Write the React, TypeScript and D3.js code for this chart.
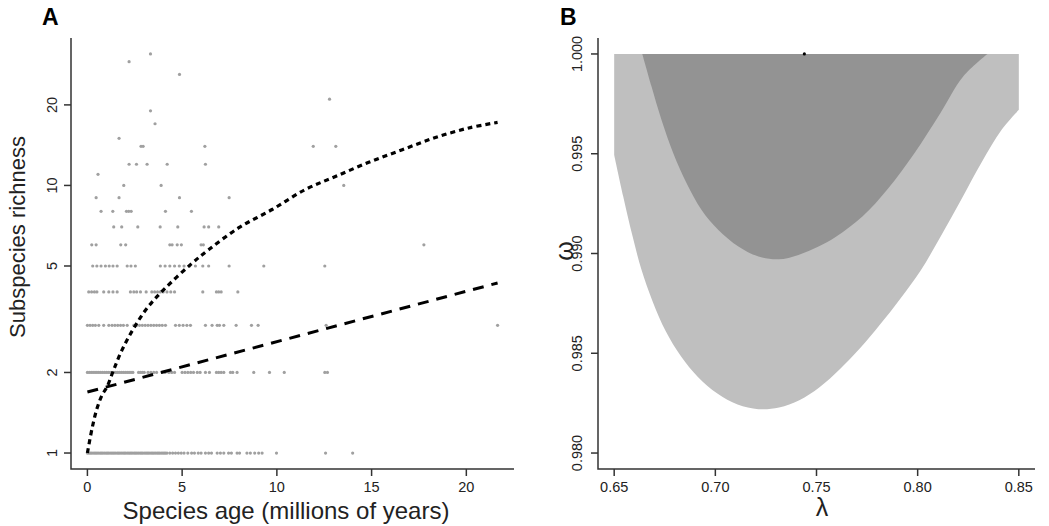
import React from "react";
import * as d3 from "d3";

// ---- panel A data (ages in Myr, grouped by subspecies richness) ----
const ages1 = [0.0, 0.08, 0.15, 0.22, 0.3, 0.38, 0.45, 0.52, 0.6, 0.68, 0.75, 0.82, 0.9, 0.98, 1.05, 1.12, 1.2, 1.28, 1.35, 1.42, 1.5, 1.58, 1.65, 1.72, 1.8, 1.88, 1.95, 2.02, 2.1, 2.18, 2.25, 2.32, 2.4, 2.48, 2.55, 2.62, 2.7, 2.78, 2.85, 2.92, 3.0, 3.08, 3.15, 3.22, 3.3, 3.38, 3.45, 3.52, 3.6, 3.68, 3.75, 3.82, 3.9, 3.98, 4.05, 4.12, 4.2, 4.35, 4.5, 4.65, 4.8, 4.95, 5.1, 5.3, 5.5, 5.65, 5.85, 6.0, 6.23, 6.4, 6.55, 6.85, 7.02, 7.2, 7.45, 7.6, 7.9, 8.03, 8.42, 8.6, 8.83, 9.04, 9.22, 9.98, 12.57, 14.0];
const ages2 = [0.0, 0.1, 0.2, 0.3, 0.4, 0.5, 0.6, 0.7, 0.8, 0.9, 1.0, 1.1, 1.2, 1.3, 1.4, 1.5, 1.6, 1.7, 1.8, 1.9, 2.0, 2.1, 2.2, 2.3, 2.4, 2.7, 2.8, 2.9, 3.0, 3.2, 3.35, 3.5, 3.65, 3.95, 4.1, 4.3, 4.45, 4.6, 5.0, 5.15, 5.3, 5.45, 5.6, 5.8, 5.95, 6.23, 6.44, 6.81, 6.93, 7.06, 7.2, 7.55, 7.67, 7.9, 8.78, 9.61, 10.39, 12.53, 12.67];
const ages3 = [0.0, 0.14, 0.28, 0.42, 0.6, 0.86, 1.13, 1.3, 1.45, 1.6, 1.75, 1.9, 2.1, 2.45, 2.6, 2.75, 2.9, 3.05, 3.2, 3.35, 3.5, 3.65, 3.8, 3.95, 4.12, 4.65, 4.85, 5.05, 5.25, 5.44, 6.23, 6.58, 6.85, 6.97, 7.2, 7.85, 8.66, 9.01, 12.6, 21.65];
const ages4 = [0.07, 0.22, 0.37, 0.5, 0.86, 1.13, 1.35, 1.57, 2.27, 2.45, 2.6, 2.8, 3.1, 3.4, 3.55, 3.7, 3.85, 4.0, 4.2, 4.4, 4.6, 6.09, 6.81, 6.93, 7.06, 7.94];
const ages5 = [0.28, 0.5, 0.72, 0.95, 1.15, 1.35, 1.57, 2.1, 2.3, 2.53, 3.85, 4.1, 4.35, 4.6, 4.85, 5.1, 5.4, 5.7, 6.09, 6.4, 7.48, 9.31, 12.53];
const ages6 = [0.23, 0.46, 1.76, 2.02, 4.35, 4.47, 4.74, 4.96, 6.0, 6.12, 17.76];
const ages7 = [1.39, 1.81, 2.66, 3.84, 4.77, 6.16, 6.4, 6.93];
const ages8 = [0.72, 1.34, 2.06, 2.18, 2.31, 4.12, 5.49];
const ages9 = [0.46, 1.67, 4.86, 7.48];
const ages10 = [1.92, 3.89, 13.53];
const ages11 = [0.56];
const ages12 = [2.2, 2.59, 3.15, 4.21, 6.23];
const ages14 = [2.83, 2.94, 6.2, 11.92, 13.11];
const ages15 = [1.67];
const ages17 = [3.57];
const ages19 = [3.33];
const ages21 = [12.78];
const ages26 = [4.86];
const ages29 = [2.2];
const ages31 = [3.33];

const rows: [number, number[]][] = [
  [1, ages1], [2, ages2], [3, ages3], [4, ages4], [5, ages5], [6, ages6], [7, ages7],
  [8, ages8], [9, ages9], [10, ages10], [11, ages11], [12, ages12], [14, ages14],
  [15, ages15], [17, ages17], [19, ages19], [21, ages21], [26, ages26], [29, ages29], [31, ages31],
];

// fitted curves
const dottedAge = [0, 0.25, 0.51, 0.78, 1.04, 1.39, 1.83, 2.45, 3.15, 4.03, 5.44, 6.41, 7.99, 9.75, 11.51, 13.09, 14.85, 16.62, 18.37, 20.13, 21.65];
const dottedRich = [1, 1.24, 1.47, 1.65, 1.77, 2.05, 2.43, 2.93, 3.48, 4.08, 5.06, 5.76, 6.95, 8.13, 9.66, 10.8, 12.2, 13.6, 15.1, 16.4, 17.2];
const dashedAge = [0, 21.65];
const dashedRich = [1.69, 4.32];

const xTicksA = [0, 5, 10, 15, 20];
const yTicksA = [1, 2, 5, 10, 20];

// ---- panel B data (confidence regions in lambda/omega) ----
// curved lower boundaries; the regions are clipped at omega = 1 and lambda = 0.65 / 0.85
const outerLambda = [0.65, 0.6545, 0.659, 0.6635, 0.669, 0.6755, 0.683, 0.6915, 0.701, 0.711, 0.7213, 0.7315, 0.7415, 0.7515, 0.7615, 0.7715, 0.7815, 0.7915, 0.8015, 0.8115, 0.8215, 0.8315, 0.8415, 0.85];
const outerOmega = [0.99494, 0.99285, 0.9909, 0.98918, 0.9876, 0.9861, 0.98485, 0.9838, 0.98298, 0.98243, 0.9822, 0.98228, 0.98265, 0.9833, 0.9842, 0.98525, 0.98645, 0.98775, 0.98915, 0.99088, 0.9927, 0.99455, 0.9962, 0.9972];
const innerLambda = [0.6639, 0.6685, 0.6734, 0.6792, 0.6858, 0.6932, 0.7015, 0.7114, 0.7213, 0.7312, 0.7411, 0.7510, 0.7598, 0.7727, 0.7855, 0.7984, 0.8112, 0.8224, 0.8345];
const innerOmega = [1.0, 0.99836, 0.99669, 0.99503, 0.99352, 0.99218, 0.99118, 0.99035, 0.98985, 0.98971, 0.98993, 0.99035, 0.99085, 0.99185, 0.99327, 0.99503, 0.99703, 0.99886, 1.0];
const lambdaRange = [0.65, 0.85];
const omegaMax = 1.0;
const mle = [0.744, 1.0];

const xTicksB = [0.65, 0.7, 0.75, 0.8, 0.85];
const yTicksB = [0.98, 0.985, 0.99, 0.995, 1.0];

const FONT = "'Liberation Sans', Arial, Helvetica, sans-serif";
const AXIS = "#333";
const TXT = "#222";

export default function App() {
  // panel A scales
  const xA = d3.scaleLinear().domain([-0.866, 22.516]).range([71, 514]);
  const yA = d3.scaleLog().domain([Math.pow(10, -0.0597), Math.pow(10, 1.551)]).range([469, 38]);
  // panel B scales
  const xB = d3.scaleLinear().domain([0.642, 0.858]).range([598, 1035]);
  const yB = d3.scaleLinear().domain([0.9792, 1.0008]).range([469, 38]);

  const dottedLine = d3
    .line<number>()
    .x((_, i) => xA(dottedAge[i]))
    .y((_, i) => yA(dottedRich[i]))
    .curve(d3.curveCatmullRom.alpha(0.5))(dottedAge);
  const dashedLine = d3
    .line<number>()
    .x((_, i) => xA(dashedAge[i]))
    .y((_, i) => yA(dashedRich[i]))(dashedAge);

  const curveB = (lam: number[], om: number[]) =>
    d3
      .line<number>()
      .x((_, i) => xB(lam[i]))
      .y((_, i) => yB(om[i]))
      .curve(d3.curveCatmullRom.alpha(0.5))(lam) ?? "";

  const outerPath =
    curveB(outerLambda, outerOmega) +
    `L${xB(lambdaRange[1])},${yB(omegaMax)}L${xB(lambdaRange[0])},${yB(omegaMax)}Z`;
  const innerPath = curveB(innerLambda, innerOmega) + "Z";

  return (
    <svg width={1049} height={526} style={{ position: "absolute", left: 0, top: 0, background: "#fff" }} fontFamily={FONT}>
      {/* ---------- Panel A ---------- */}
      <text x={42} y={25} fontSize={23} fontWeight="bold">A</text>
      {rows.map(([r, ages]) =>
        ages.map((a, i) => (
          <circle key={`${r}-${i}`} cx={xA(a)} cy={yA(r)} r={1.6} fill="#a0a0a0" />
        ))
      )}
      <path d={dashedLine ?? ""} fill="none" stroke="#000" strokeWidth={3} strokeDasharray="11,8" />
      <path d={dottedLine ?? ""} fill="none" stroke="#000" strokeWidth={3.2} strokeDasharray="5,4" />

      <path d={`M71,38V469H514`} fill="none" stroke={AXIS} strokeWidth={1.5} />
      {xTicksA.map((t) => (
        <g key={t}>
          <line x1={xA(t)} x2={xA(t)} y1={469} y2={476} stroke={AXIS} strokeWidth={1.5} />
          <text x={xA(t)} y={492} fontSize={14.5} textAnchor="middle" fill={TXT}>{t}</text>
        </g>
      ))}
      {yTicksA.map((t) => (
        <g key={t}>
          <line x1={64} x2={71} y1={yA(t)} y2={yA(t)} stroke={AXIS} strokeWidth={1.5} />
          <text transform={`translate(57,${yA(t)}) rotate(-90)`} fontSize={14.5} textAnchor="middle" fill={TXT}>{t}</text>
        </g>
      ))}
      <text x={286} y={519} fontSize={24} textAnchor="middle" fill={TXT}>Species age (millions of years)</text>
      <text transform="translate(25,237) rotate(-90)" fontSize={22} textAnchor="middle" fill={TXT}>Subspecies richness</text>

      {/* ---------- Panel B ---------- */}
      <text x={560} y={25} fontSize={23} fontWeight="bold">B</text>
      <path d={outerPath} fill="#bfbfbf" />
      <path d={innerPath} fill="#939393" />
      <circle cx={xB(mle[0])} cy={yB(mle[1])} r={1.6} fill="#000" />

      <path d={`M598,38V469H1035`} fill="none" stroke={AXIS} strokeWidth={1.5} />
      {xTicksB.map((t) => (
        <g key={t}>
          <line x1={xB(t)} x2={xB(t)} y1={469} y2={476} stroke={AXIS} strokeWidth={1.5} />
          <text x={xB(t)} y={492} fontSize={14.5} textAnchor="middle" fill={TXT}>{d3.format(".2f")(t)}</text>
        </g>
      ))}
      {yTicksB.map((t) => (
        <g key={t}>
          <line x1={591} x2={598} y1={yB(t)} y2={yB(t)} stroke={AXIS} strokeWidth={1.5} />
          <text transform={`translate(582,${yB(t)}) rotate(-90)`} fontSize={14.5} textAnchor="middle" fill={TXT}>{d3.format(".3f")(t)}</text>
        </g>
      ))}
      <text x={822} y={516} fontSize={25} textAnchor="middle" fill={TXT}>λ</text>
      <text transform="translate(573,251) rotate(-90)" fontSize={25} textAnchor="middle" fill={TXT}>ω</text>
    </svg>
  );
}
